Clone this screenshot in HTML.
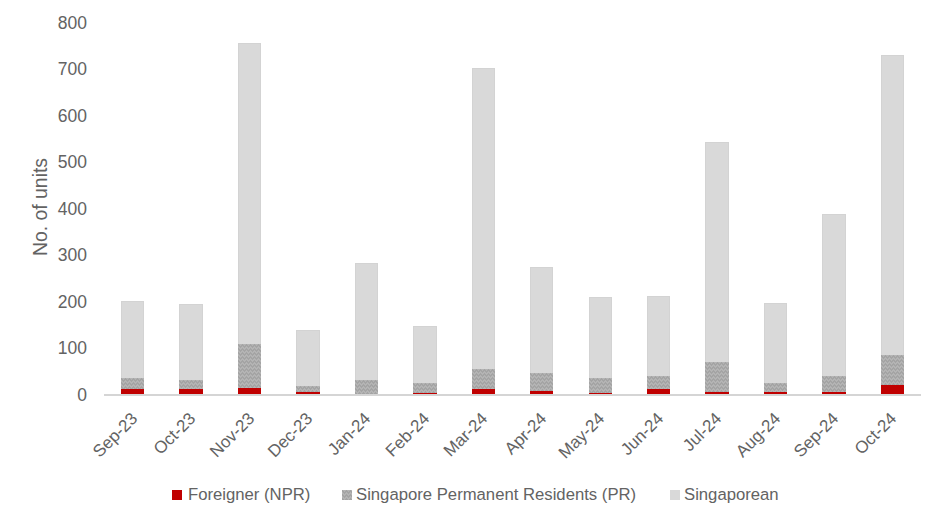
<!DOCTYPE html>
<html><head><meta charset="utf-8"><style>
html,body{margin:0;padding:0;background:#fff;}
body{width:944px;height:525px;position:relative;overflow:hidden;font-family:"Liberation Sans", sans-serif;color:#636363;}
.a{position:absolute;}
.yl{position:absolute;right:0;width:60px;text-align:right;font-size:17.5px;line-height:20px;height:20px;}
.xl{position:absolute;font-size:17px;line-height:20px;height:20px;white-space:nowrap;transform:rotate(-45deg);transform-origin:100% 50%;text-align:right;}
.leg{position:absolute;font-size:16.7px;line-height:20px;height:20px;white-space:nowrap;}
.sq{position:absolute;width:10px;height:10px;}
.pr{background-color:#a4a4a4;background-image:linear-gradient(135deg,#b4b4b4 25%,transparent 25%),linear-gradient(225deg,#b4b4b4 25%,transparent 25%),linear-gradient(315deg,#b4b4b4 25%,transparent 25%),linear-gradient(45deg,#b4b4b4 25%,transparent 25%);background-size:4px 4px;background-position:-2px 0,-2px 0,0 0,0 0;}
</style></head><body>

<div class="a" style="left:27px;top:384.90px;width:60px;text-align:right;font-size:17.5px;line-height:20px;">0</div>
<div class="a" style="left:27px;top:338.39px;width:60px;text-align:right;font-size:17.5px;line-height:20px;">100</div>
<div class="a" style="left:27px;top:291.89px;width:60px;text-align:right;font-size:17.5px;line-height:20px;">200</div>
<div class="a" style="left:27px;top:245.38px;width:60px;text-align:right;font-size:17.5px;line-height:20px;">300</div>
<div class="a" style="left:27px;top:198.88px;width:60px;text-align:right;font-size:17.5px;line-height:20px;">400</div>
<div class="a" style="left:27px;top:152.37px;width:60px;text-align:right;font-size:17.5px;line-height:20px;">500</div>
<div class="a" style="left:27px;top:105.86px;width:60px;text-align:right;font-size:17.5px;line-height:20px;">600</div>
<div class="a" style="left:27px;top:59.36px;width:60px;text-align:right;font-size:17.5px;line-height:20px;">700</div>
<div class="a" style="left:27px;top:12.85px;width:60px;text-align:right;font-size:17.5px;line-height:20px;">800</div>
<div class="a" style="left:-20.5px;top:197.3px;width:120px;height:20px;line-height:20px;text-align:center;font-size:19.4px;color:#636363;transform:rotate(-90deg);transform-origin:50% 50%;">No. of units</div>
<div class="a" style="left:104.0px;top:394px;width:817.0px;height:2px;background:#d5d5d5;"></div>
<div class="a" style="left:121.00px;top:301px;width:23.38px;height:77px;background:#d9d9d9;box-shadow:inset 1px 1px 0 #d3d3d3,inset -1px 0 0 #d3d3d3;"></div>
<div class="a pr" style="left:121.00px;top:378px;width:23.38px;height:11px;"></div>
<div class="a" style="left:121.00px;top:389px;width:23.38px;height:5px;background:#c00000;"></div>
<div class="a" style="left:179.44px;top:304px;width:23.38px;height:76px;background:#d9d9d9;box-shadow:inset 1px 1px 0 #d3d3d3,inset -1px 0 0 #d3d3d3;"></div>
<div class="a pr" style="left:179.44px;top:380px;width:23.38px;height:9px;"></div>
<div class="a" style="left:179.44px;top:389px;width:23.38px;height:5px;background:#c00000;"></div>
<div class="a" style="left:237.88px;top:43px;width:23.38px;height:301px;background:#d9d9d9;box-shadow:inset 1px 1px 0 #d3d3d3,inset -1px 0 0 #d3d3d3;"></div>
<div class="a pr" style="left:237.88px;top:344px;width:23.38px;height:44px;"></div>
<div class="a" style="left:237.88px;top:388px;width:23.38px;height:6px;background:#c00000;"></div>
<div class="a" style="left:296.32px;top:330px;width:23.38px;height:56px;background:#d9d9d9;box-shadow:inset 1px 1px 0 #d3d3d3,inset -1px 0 0 #d3d3d3;"></div>
<div class="a pr" style="left:296.32px;top:386px;width:23.38px;height:6px;"></div>
<div class="a" style="left:296.32px;top:392px;width:23.38px;height:2px;background:#c00000;"></div>
<div class="a" style="left:354.76px;top:263px;width:23.38px;height:117px;background:#d9d9d9;box-shadow:inset 1px 1px 0 #d3d3d3,inset -1px 0 0 #d3d3d3;"></div>
<div class="a pr" style="left:354.76px;top:380px;width:23.38px;height:14px;"></div>
<div class="a" style="left:413.20px;top:326px;width:23.38px;height:57px;background:#d9d9d9;box-shadow:inset 1px 1px 0 #d3d3d3,inset -1px 0 0 #d3d3d3;"></div>
<div class="a pr" style="left:413.20px;top:383px;width:23.38px;height:10px;"></div>
<div class="a" style="left:413.20px;top:393px;width:23.38px;height:1px;background:#c00000;"></div>
<div class="a" style="left:471.64px;top:68px;width:23.38px;height:301px;background:#d9d9d9;box-shadow:inset 1px 1px 0 #d3d3d3,inset -1px 0 0 #d3d3d3;"></div>
<div class="a pr" style="left:471.64px;top:369px;width:23.38px;height:20px;"></div>
<div class="a" style="left:471.64px;top:389px;width:23.38px;height:5px;background:#c00000;"></div>
<div class="a" style="left:530.08px;top:267px;width:23.38px;height:106px;background:#d9d9d9;box-shadow:inset 1px 1px 0 #d3d3d3,inset -1px 0 0 #d3d3d3;"></div>
<div class="a pr" style="left:530.08px;top:373px;width:23.38px;height:18px;"></div>
<div class="a" style="left:530.08px;top:391px;width:23.38px;height:3px;background:#c00000;"></div>
<div class="a" style="left:588.52px;top:297px;width:23.38px;height:81px;background:#d9d9d9;box-shadow:inset 1px 1px 0 #d3d3d3,inset -1px 0 0 #d3d3d3;"></div>
<div class="a pr" style="left:588.52px;top:378px;width:23.38px;height:15px;"></div>
<div class="a" style="left:588.52px;top:393px;width:23.38px;height:1px;background:#c00000;"></div>
<div class="a" style="left:646.96px;top:296px;width:23.38px;height:80px;background:#d9d9d9;box-shadow:inset 1px 1px 0 #d3d3d3,inset -1px 0 0 #d3d3d3;"></div>
<div class="a pr" style="left:646.96px;top:376px;width:23.38px;height:13px;"></div>
<div class="a" style="left:646.96px;top:389px;width:23.38px;height:5px;background:#c00000;"></div>
<div class="a" style="left:705.40px;top:142px;width:23.38px;height:220px;background:#d9d9d9;box-shadow:inset 1px 1px 0 #d3d3d3,inset -1px 0 0 #d3d3d3;"></div>
<div class="a pr" style="left:705.40px;top:362px;width:23.38px;height:30px;"></div>
<div class="a" style="left:705.40px;top:392px;width:23.38px;height:2px;background:#c00000;"></div>
<div class="a" style="left:763.84px;top:303px;width:23.38px;height:80px;background:#d9d9d9;box-shadow:inset 1px 1px 0 #d3d3d3,inset -1px 0 0 #d3d3d3;"></div>
<div class="a pr" style="left:763.84px;top:383px;width:23.38px;height:9px;"></div>
<div class="a" style="left:763.84px;top:392px;width:23.38px;height:2px;background:#c00000;"></div>
<div class="a" style="left:822.28px;top:214px;width:23.38px;height:162px;background:#d9d9d9;box-shadow:inset 1px 1px 0 #d3d3d3,inset -1px 0 0 #d3d3d3;"></div>
<div class="a pr" style="left:822.28px;top:376px;width:23.38px;height:16px;"></div>
<div class="a" style="left:822.28px;top:392px;width:23.38px;height:2px;background:#c00000;"></div>
<div class="a" style="left:880.72px;top:55px;width:23.38px;height:300px;background:#d9d9d9;box-shadow:inset 1px 1px 0 #d3d3d3,inset -1px 0 0 #d3d3d3;"></div>
<div class="a pr" style="left:880.72px;top:355px;width:23.38px;height:30px;"></div>
<div class="a" style="left:880.72px;top:385px;width:23.38px;height:9px;background:#c00000;"></div>
<div class="xl" style="left:54.69px;top:406.00px;width:80px;">Sep-23</div>
<div class="xl" style="left:113.13px;top:406.00px;width:80px;">Oct-23</div>
<div class="xl" style="left:171.57px;top:406.00px;width:80px;">Nov-23</div>
<div class="xl" style="left:230.01px;top:406.00px;width:80px;">Dec-23</div>
<div class="xl" style="left:288.45px;top:406.00px;width:80px;">Jan-24</div>
<div class="xl" style="left:346.89px;top:406.00px;width:80px;">Feb-24</div>
<div class="xl" style="left:405.33px;top:406.00px;width:80px;">Mar-24</div>
<div class="xl" style="left:463.77px;top:406.00px;width:80px;">Apr-24</div>
<div class="xl" style="left:522.21px;top:406.00px;width:80px;">May-24</div>
<div class="xl" style="left:580.65px;top:406.00px;width:80px;">Jun-24</div>
<div class="xl" style="left:639.09px;top:406.00px;width:80px;">Jul-24</div>
<div class="xl" style="left:697.53px;top:406.00px;width:80px;">Aug-24</div>
<div class="xl" style="left:755.97px;top:406.00px;width:80px;">Sep-24</div>
<div class="xl" style="left:814.41px;top:406.00px;width:80px;">Oct-24</div>
<div class="sq" style="left:172px;top:490px;background:#c00000;"></div>
<div class="leg" style="left:188px;top:485px;">Foreigner (NPR)</div>
<div class="sq pr" style="left:342px;top:490px;"></div>
<div class="leg" style="left:356px;top:485px;">Singapore Permanent Residents (PR)</div>
<div class="sq" style="left:670px;top:490px;background:#d9d9d9;"></div>
<div class="leg" style="left:684px;top:485px;">Singaporean</div>
</body></html>
